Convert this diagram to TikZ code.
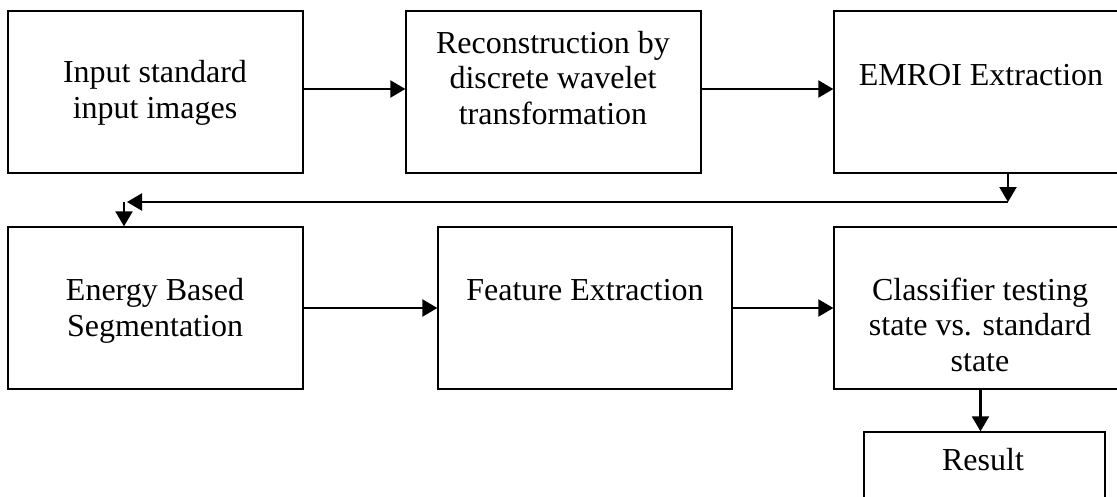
\documentclass[tikz,border=0pt]{standalone}
\usepackage{fontspec}
\setmainfont{Liberation Serif}
\usetikzlibrary{arrows.meta}
\begin{document}
\begin{tikzpicture}[x=1pt, y=-1pt,
    box/.style={draw, line width=1.3pt, minimum width=295pt, minimum height=162pt, inner sep=0pt},
    txt/.style={anchor=base, align=center, inner sep=0pt, font=\fontsize{32}{35.5}\selectfont},
    flow/.style={line width=2.2pt, -{Triangle[length=15pt, width=17pt]}}]
    \useasboundingbox (0,0) rectangle (1117,496);

    % Draw the top row of boxes
    \node[box] (input) at (155.5,92) {};
    \node[box] (recon) at (553.5,92) {};
    \node[box, minimum width=293pt] (emroi) at (980.5,92) {};

    % Draw the bottom row of boxes
    \node[box] (energy) at (155.5,308) {};
    \node[box, minimum width=294pt] (feature) at (585,308) {};
    \node[box, minimum width=293pt] (classify) at (980.5,308) {};
    \node[box, minimum width=241pt, minimum height=88pt] (result) at (984.5,476) {};

    % Add box texts (base is the last line)
    \node[txt] (input-txt) at (155,118) {Input standard\\input images};
    \node[txt] (recon-txt) at (553,124) {Reconstruction by\\discrete wavelet\\transformation};
    \node[txt] (emroi-txt) at (981,85) {EMROI Extraction};
    \node[txt] (energy-txt) at (155,336) {Energy Based\\Segmentation};
    \node[txt] (feature-txt) at (585,300) {Feature Extraction};
    \node[txt] (classify-txt) at (980,371) {Classifier testing\\state vs. standard\\state};
    \node[txt] (result-txt) at (983,470) {Result};

    % Connect the top row
    \draw[flow] ([yshift=3pt]input.east) -- ([yshift=3pt]recon.west);
    \draw[flow] ([yshift=3pt]recon.east) -- ([yshift=3pt]emroi.west);

    % Loop back to the second row
    \coordinate (drop) at (1008,202);
    \coordinate (bend) at (124,202);
    \draw[flow] (emroi.south -| drop) -- (drop);
    \draw[flow] (drop) -- ([xshift=3pt]bend);
    \draw[flow] (bend) -- (energy.north -| bend);

    % Connect the bottom row
    \draw[flow] (energy) -- (feature);
    \draw[flow] (feature) -- (classify);
    \draw[flow] (classify.south) -- (classify.south |- result.north);
\end{tikzpicture}
\end{document}
